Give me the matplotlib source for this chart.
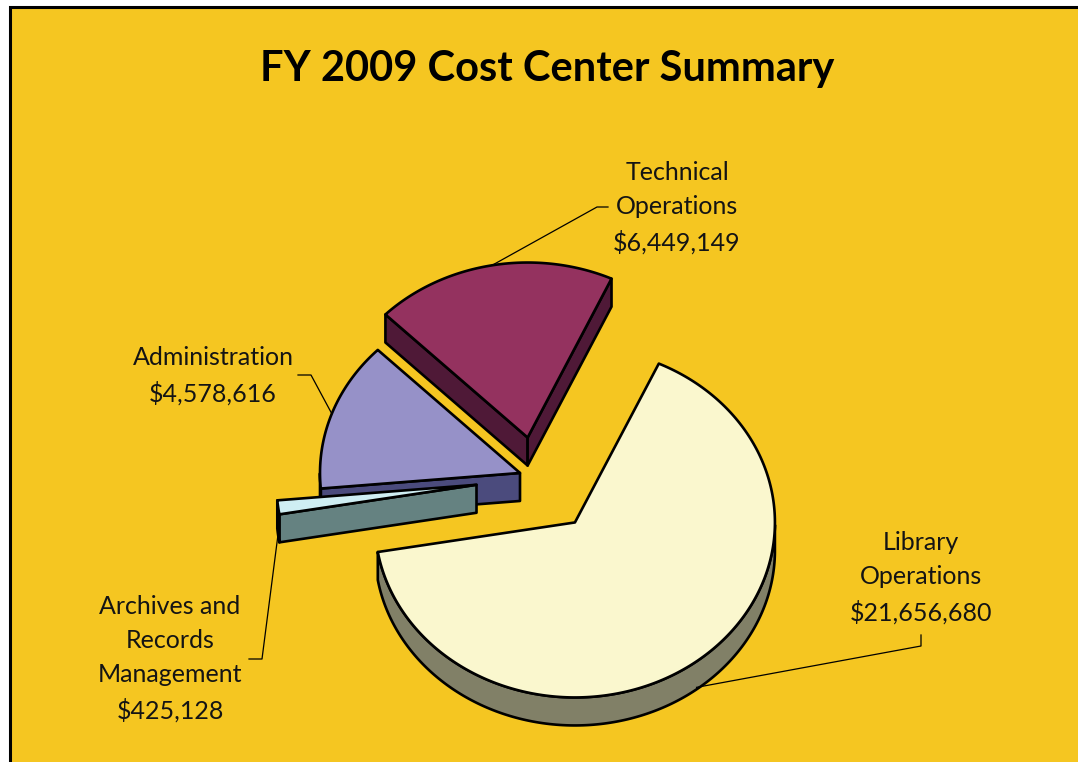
"""
FY 2009 cost center summary drawn as an exploded 3-D style pie.
"""

import numpy as np
import matplotlib
matplotlib.use("Agg")
import matplotlib.pyplot as plt
from matplotlib.patches import Polygon, Rectangle

# ── data ─────────────────────────────────────────────────────────────────────
centers = ["Library\nOperations",
           "Archives and\nRecords\nManagement",
           "Administration",
           "Technical\nOperations"]
costs = [21656680, 425128, 4578616, 6449149]

top_colors  = ["#FAF7CE", "#CFEEF3", "#9691C8", "#94325F"]
side_colors = ["#818067", "#658281", "#4B4B7D", "#4F1937"]
explode     = [0.32, 0.30, 0.085, 0.235]

# ── layout (pixel coords, y down) ────────────────────────────────────────────
W, H   = 1078, 762
BG     = "#F5C621"
CX, CY = 536.0, 478.0      # undisplaced pie centre
R      = 200.0             # radius of the pie
SQ     = 0.875             # vertical squash of the tilted disc
DEPTH  = 28.0              # thickness of the disc
START  = 65.2              # angle of first slice edge, going clockwise

# label centre and elbow of the leader line for each slice
label_xy = [(921, 578), (170, 659), (213, 376), (677, 208)]
elbow_xy = [[(921, 646), (921, 635)],
            [(262, 659), (249, 659)],
            [(311, 375), (298, 375)],
            [(597, 207), (608, 207)]]


def rim(cx, cy, ang, dz=0.0):
    a = np.radians(ang)
    return np.column_stack([cx + R * np.cos(a), cy - R * SQ * np.sin(a) + dz])


def runs(mask):
    # contiguous True stretches of a boolean array -> list of (i0, i1)
    out, i0 = [], None
    for i, m in enumerate(mask):
        if m and i0 is None:
            i0 = i
        if not m and i0 is not None:
            out.append((i0, i))
            i0 = None
    if i0 is not None:
        out.append((i0, len(mask)))
    return out


def main():
    vals = np.array(costs, dtype=float)
    sweep = vals / vals.sum() * 360.0
    a1 = START - np.concatenate([[0], np.cumsum(sweep)[:-1]])
    a2 = a1 - sweep
    mid = (a1 + a2) / 2

    fig = plt.figure(figsize=(W / 100, H / 100), dpi=100, facecolor="white")
    ax = fig.add_axes([0, 0, 1, 1])
    ax.set_xlim(0, W)
    ax.set_ylim(H, 0)
    ax.axis("off")

    ax.add_patch(Rectangle((9.5, 6.5), W + 20, H + 20, facecolor=BG,
                           edgecolor="black", linewidth=2.2, zorder=0))

    slices = []
    for i in range(len(vals)):
        m = np.radians(mid[i])
        vx = CX + explode[i] * R * np.cos(m)
        vy = CY - explode[i] * R * SQ * np.sin(m)
        slices.append((vx, vy))

    ec = dict(edgecolor="black", linewidth=1.9, joinstyle="round")
    # back to front
    order = np.argsort([s[1] for s in slices])
    z = 1
    for i in order:
        vx, vy = slices[i]
        angs = np.linspace(a1[i], a2[i], 240)
        top = rim(vx, vy, angs)

        # cut faces
        faces = []
        if np.cos(np.radians(a1[i])) < 0:
            faces.append(a1[i])
        if np.cos(np.radians(a2[i])) > 0:
            faces.append(a2[i])
        for fa in faces:
            p = rim(vx, vy, [fa])[0]
            poly = [(vx, vy), tuple(p), (p[0], p[1] + DEPTH), (vx, vy + DEPTH)]
            ax.add_patch(Polygon(poly, closed=True, facecolor=side_colors[i],
                                 zorder=z, **ec))
            z += 1

        # outer curved wall, front half only
        front = np.sin(np.radians(angs)) < 0
        for j0, j1 in runs(front):
            up = top[j0:j1]
            lo = up + [0, DEPTH]
            poly = np.vstack([up, lo[::-1]])
            ax.add_patch(Polygon(poly, closed=True, facecolor=side_colors[i],
                                 zorder=z, **ec))
            z += 1

        poly = np.vstack([[vx, vy], top])
        ax.add_patch(Polygon(poly, closed=True, facecolor=top_colors[i],
                             zorder=z, **ec))
        z += 1

    # labels and leader lines
    for i in range(len(vals)):
        vx, vy = slices[i]
        anchor = rim(vx, vy, [mid[i]])[0]
        if np.sin(np.radians(mid[i])) < 0:
            anchor = anchor + [0, DEPTH - 2]
        pts = np.vstack([anchor, elbow_xy[i]])
        ax.plot(pts[:, 0], pts[:, 1], color="black", linewidth=0.9, zorder=50)
        txt = f"{centers[i]}\n${costs[i]:,.0f}"
        ax.text(*label_xy[i], txt, ha="center", va="center", fontsize=18,
                family=["Lato", "DejaVu Sans"], color="#141414",
                linespacing=1.58, zorder=60)

    ax.text(547, 69, "FY 2009 Cost Center Summary", ha="center", va="center",
            fontsize=30, fontweight="bold",
            family=["Lato", "DejaVu Sans"], color="black")

    fig.savefig("out.png", dpi=100, facecolor=fig.get_facecolor())


if __name__ == "__main__":
    main()
